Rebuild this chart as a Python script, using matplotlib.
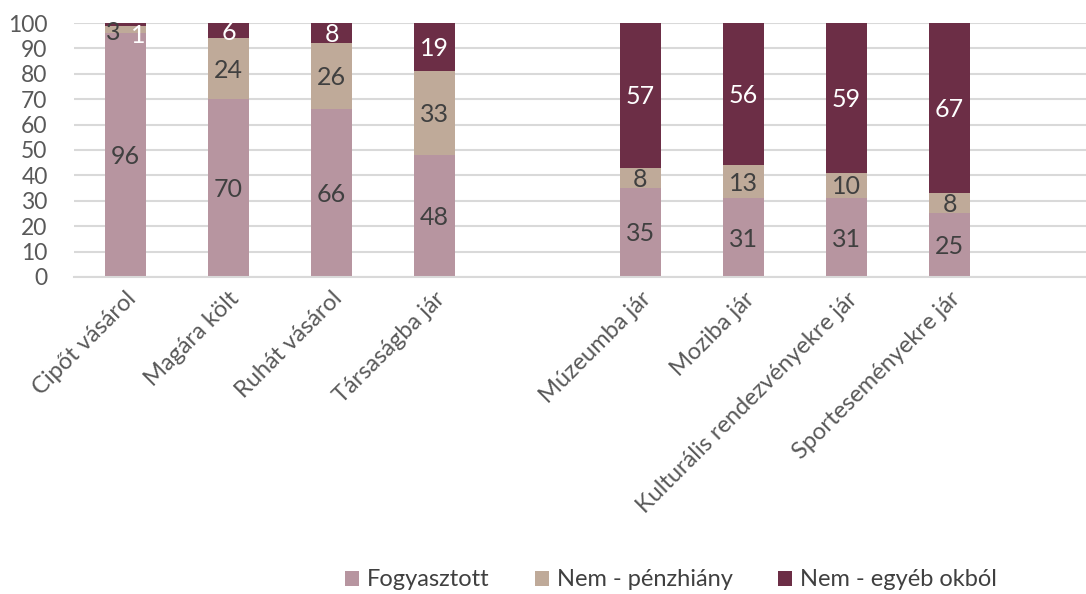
import matplotlib.pyplot as plt
import numpy as np

plt.rcParams["font.family"] = ["Lato", "DejaVu Sans"]

categories = ["Cipőt vásárol", "Magára költ", "Ruhát vásárol", "Társaságba jár", "",
              "Múzeumba jár", "Moziba jár", "Kulturális rendezvényekre jár",
              "Sporteseményekre jár", ""]
fogyasztott = [96, 70, 66, 48, 0, 35, 31, 31, 25, 0]
penzhiany = [3, 24, 26, 33, 0, 8, 13, 10, 8, 0]
egyeb = [1, 6, 8, 19, 0, 57, 56, 59, 67, 0]

series = [
    ("Fogyasztott", fogyasztott, "#b795a0", "#404040"),
    ("Nem - pénzhiány", penzhiany, "#bfaa99", "#404040"),
    ("Nem - egyéb okból", egyeb, "#6c2e46", "white"),
]

fig = plt.figure(figsize=(10.86, 5.94), dpi=100)
ax = fig.add_axes([74 / 1086, 1 - 277 / 594, 1030 / 1086, 254 / 594])

x = np.arange(len(categories))
bottom = np.zeros(len(categories))
for name, vals, color, tcolor in series:
    vals = np.array(vals, dtype=float)
    ax.bar(x, vals, bottom=bottom, width=0.4, color=color, label=name, zorder=2)
    for i, v in enumerate(vals):
        if v <= 0:
            continue
        dx, dy = 0, -1
        # small segments in the first bar: labels pushed aside as in the original
        if v < 5:
            dx, dy = (-9, -2) if name == "Nem - pénzhiány" else (9, -8)
        ax.annotate(f"{int(v)}", (x[i], bottom[i] + v / 2), xytext=(dx, dy),
                    textcoords="offset points", ha="center", va="center",
                    fontsize=18, color=tcolor, zorder=3)
    bottom += vals

ax.set_xlim(-0.5, len(categories) - 0.5)
ax.set_ylim(0, 100)
ax.set_yticks(range(0, 101, 10))
ax.yaxis.grid(True, color="#d9d9d9", linewidth=1.5, zorder=0)
ax.set_axisbelow(True)
for s in ["top", "right", "left"]:
    ax.spines[s].set_visible(False)
ax.spines["bottom"].set_color("#d9d9d9")
ax.spines["bottom"].set_linewidth(1.5)
ax.tick_params(axis="both", length=0, labelsize=16.5, colors="#595959")
ax.tick_params(axis="y", pad=19)
ax.set_xticks(x)
ax.set_xticklabels(categories, rotation=45, ha="right", rotation_mode="anchor",
                   fontsize=17, color="#595959")
ax.tick_params(axis="x", pad=8)

fig.legend(loc="center", bbox_to_anchor=(671 / 1086, 1 - 580 / 594), ncol=3,
           frameon=False, fontsize=17, handlelength=0.6, handleheight=0.6,
           columnspacing=1.9, handletextpad=0.35, labelcolor="#404040")

plt.savefig("out.png", dpi=100)
